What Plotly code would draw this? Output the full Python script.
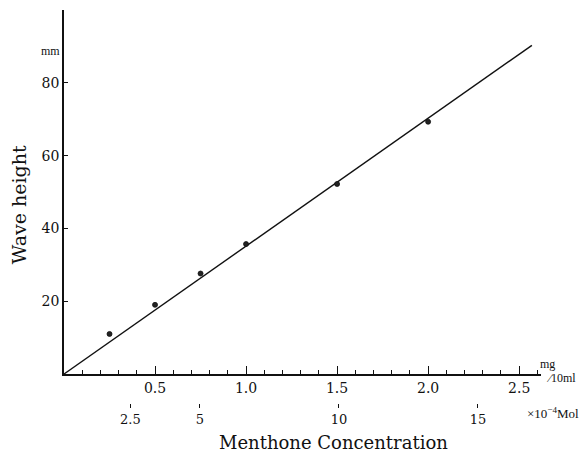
import plotly.graph_objects as go

# Calibration data: wave height vs. menthone concentration
conc_mg = [0.25, 0.5, 0.75, 1.0, 1.5, 2.0]          # mg / 10 ml
wave_height = [11.0, 19.0, 27.6, 35.7, 52.2, 69.3]   # mm

# Fitted calibration line
fit_x = [0.0, 2.57]
fit_y = [0.0, 90.3]

x_ticks = [0.5, 1.0, 1.5, 2.0, 2.5]
x_ticklabels = ["0.5", "1.0", "1.5", "2.0", "2.5"]
y_ticks = [20, 40, 60, 80]
mol_ticks = [2.5, 5, 10, 15]
mol_ticklabels = ["2.5", "5", "10", "15"]

SERIF = "DejaVu Serif, Liberation Serif, serif"
SMALL = "Liberation Serif, DejaVu Serif, serif"
INK = "#111111"

fig = go.Figure()
fig.add_trace(go.Scatter(x=fit_x, y=fit_y, mode="lines",
                         line=dict(color=INK, width=1.4), showlegend=False,
                         hoverinfo="skip"))
fig.add_trace(go.Scatter(x=conc_mg, y=wave_height, mode="markers",
                         marker=dict(color="#222222", size=5,
                                     line=dict(color=INK, width=0.8)),
                         showlegend=False))
# empty trace on a thin strip below the plot that carries the molar scale
fig.add_trace(go.Scatter(x=[mol_ticks[0]], y=[None], xaxis="x2", yaxis="y2",
                         mode="markers", showlegend=False, hoverinfo="skip"))

fig.update_layout(
    width=588, height=459,
    margin=dict(l=64, r=47, t=10, b=56),
    paper_bgcolor="white", plot_bgcolor="white",
    font=dict(family=SERIF, color=INK, size=13),
    xaxis=dict(
        range=[0, 2.62], anchor="y", domain=[0, 1],
        showline=True, linecolor=INK, linewidth=1.6,
        showgrid=False, zeroline=False,
        ticks="inside", ticklen=8, tickwidth=1.2, tickcolor=INK,
        tickvals=x_ticks, ticktext=x_ticklabels,
        minor=dict(dtick=0.1, tick0=0, ticks="inside", ticklen=4,
                   tickwidth=1, tickcolor=INK, showgrid=False),
        tickfont=dict(size=14),
    ),
    yaxis=dict(
        range=[0, 100], domain=[0.0738, 1], anchor="x",
        showline=True, linecolor=INK, linewidth=1.6,
        showgrid=False, zeroline=False,
        ticks="inside", ticklen=4, tickwidth=1.2, tickcolor=INK,
        tickvals=y_ticks, tickfont=dict(size=14),
    ),
    xaxis2=dict(
        range=[0.11, 17.27], anchor="y2", domain=[0, 1],
        showline=False, showgrid=False, zeroline=False,
        ticks="outside", ticklen=4, tickwidth=1, tickcolor=INK,
        tickvals=mol_ticks, ticktext=mol_ticklabels,
        tickfont=dict(size=13),
    ),
    yaxis2=dict(
        range=[0, 1], domain=[0, 0.01], anchor="x2",
        visible=False, showgrid=False, zeroline=False,
    ),
    annotations=[
        dict(text="Wave height", xref="paper", yref="paper",
             x=-0.095, y=0.505, xanchor="center", yanchor="middle",
             textangle=-90, showarrow=False,
             font=dict(size=19, family=SERIF)),
        dict(text="Menthone Concentration", xref="paper", yref="paper",
             x=0.565, y=-0.1, xanchor="center", yanchor="middle",
             showarrow=False, font=dict(size=18, family=SERIF)),
        dict(text="mm", xref="paper", yref="paper", x=-0.005, y=0.895,
             xanchor="right", yanchor="middle", showarrow=False,
             font=dict(size=12, family=SMALL)),
        dict(text="mg", xref="paper", yref="paper", x=0.994, y=0.099,
             xanchor="left", yanchor="middle", showarrow=False,
             font=dict(size=12, family=SMALL)),
        dict(text="∕10ml", xref="paper", yref="paper", x=1.006, y=0.064,
             xanchor="left", yanchor="middle", showarrow=False,
             font=dict(size=12, family=SMALL)),
        dict(text="×10<sup>−4</sup>Mol", xref="paper", yref="paper",
             x=0.966, y=-0.025, xanchor="left", yanchor="middle",
             showarrow=False, font=dict(size=13, family=SMALL)),
    ],
)

fig.write_html("out.html")
